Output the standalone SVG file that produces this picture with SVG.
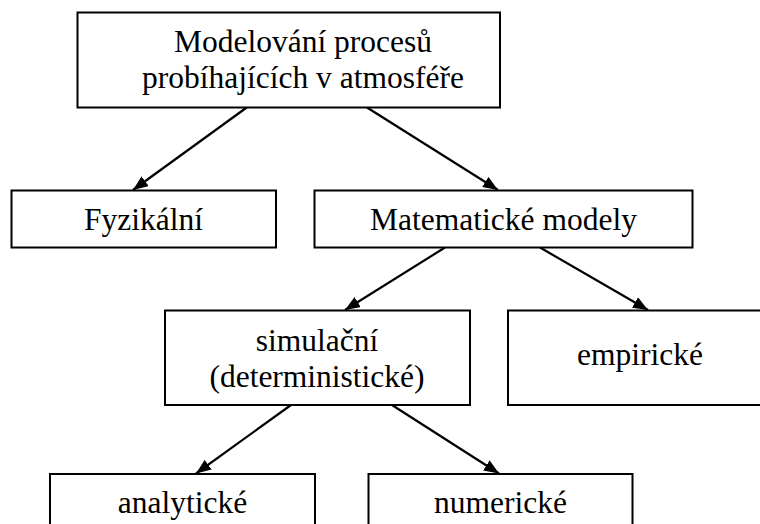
<svg xmlns="http://www.w3.org/2000/svg" width="760" height="524" viewBox="0 0 760 524">
<style>
.box{fill:#fff;stroke:#000;stroke-width:2}
.t{font-family:"Liberation Serif","Times New Roman",serif;font-size:31.5px;fill:#000;text-anchor:middle}
.c{stroke:#000;stroke-width:2.2;fill:none}
</style>
<defs>
<marker id="ah" markerUnits="userSpaceOnUse" markerWidth="15" markerHeight="12" refX="15" refY="6" orient="auto">
<path d="M0,0 L15,6 L0,12 z" fill="#000"/>
</marker>
</defs>
<rect width="760" height="524" fill="#fff"/>
<g id="connectors">
<line class="c" x1="246.7" y1="107.5" x2="133" y2="190" marker-end="url(#ah)"/>
<line class="c" x1="367" y1="107.5" x2="498" y2="190" marker-end="url(#ah)"/>
<line class="c" x1="445" y1="247.5" x2="345" y2="310" marker-end="url(#ah)"/>
<line class="c" x1="540" y1="247.5" x2="648" y2="310" marker-end="url(#ah)"/>
<line class="c" x1="291" y1="405" x2="196" y2="473.5" marker-end="url(#ah)"/>
<line class="c" x1="392" y1="405" x2="499" y2="473.5" marker-end="url(#ah)"/>
</g>
<g id="root">
<rect class="box" x="77.5" y="12.5" width="422.5" height="95"/>
<text class="t" x="303" y="52">Modelování procesů</text>
<text class="t" x="303" y="87.5">probíhajících v atmosféře</text>
</g>
<g id="fyzikalni">
<rect class="box" x="11.5" y="190.5" width="264.5" height="57"/>
<text class="t" x="143.5" y="230">Fyzikální</text>
</g>
<g id="matematicke">
<rect class="box" x="314.5" y="190.5" width="378" height="57"/>
<text class="t" x="503.5" y="230">Matematické modely</text>
</g>
<g id="simulacni">
<rect class="box" x="165" y="310.5" width="305" height="94.5"/>
<text class="t" x="317" y="351">simulační</text>
<text class="t" x="317" y="386.5">(deterministické)</text>
</g>
<g id="empiricke">
<rect class="box" x="508" y="310.5" width="264" height="94.5"/>
<text class="t" x="640" y="365">empirické</text>
</g>
<g id="analyticke">
<rect class="box" x="50" y="474" width="265" height="60"/>
<text class="t" x="182.5" y="513">analytické</text>
</g>
<g id="numericke">
<rect class="box" x="368.5" y="474" width="264" height="60"/>
<text class="t" x="500.5" y="513">numerické</text>
</g>
</svg>
